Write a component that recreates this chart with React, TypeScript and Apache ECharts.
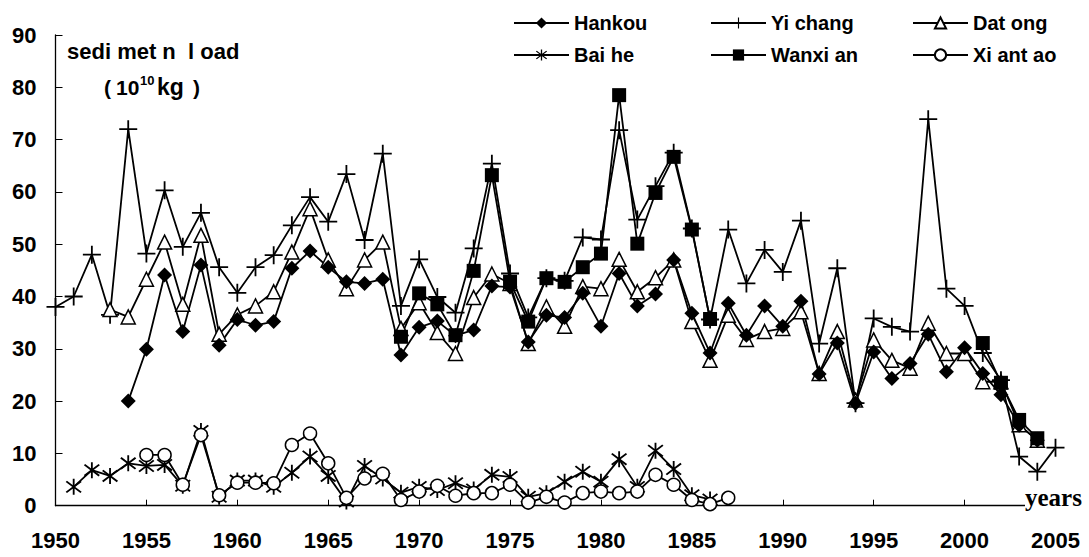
import React, { useEffect, useRef } from "react";
import * as echarts from "echarts";

const years = [
  1950, 1951, 1952, 1953, 1954, 1955, 1956, 1957, 1958, 1959,
  1960, 1961, 1962, 1963, 1964, 1965, 1966, 1967, 1968, 1969,
  1970, 1971, 1972, 1973, 1974, 1975, 1976, 1977, 1978, 1979,
  1980, 1981, 1982, 1983, 1984, 1985, 1986, 1987, 1988, 1989,
  1990, 1991, 1992, 1993, 1994, 1995, 1996, 1997, 1998, 1999,
  2000, 2001, 2002, 2003, 2004, 2005,
];

const hankou = [
  null, null, null, null, 20, 29.9, 44.1, 33.3, 46, 30.7,
  35.6, 34.5, 35.2, 45.4, 48.7, 45.6, 42.8, 42.5, 43.3, 28.8,
  34.1, 35.3, 32.5, 33.6, 42, 41.8, 31.3, 36.4, 36, 40.6,
  34.3, 44.4, 38.2, 40.5, 47, 36.8, 29.2, 38.7, 32.6, 38.2,
  34.3, 39.1, 25.2, 31.1, 19.6, 29.4, 24.3, 27.2, 32.8, 25.6,
  30.2, 25.3, 21.2, 15.4, 12.5, null,
];

const yichang = [
  38, 40, 48, 36.5, 72, 48.2, 60.3, 49.5, 56, 45.6,
  40.7, 45.6, 47.9, 53.6, 59, 54.3, 63.4, 50.8, 67.3, 38.2,
  47.1, 39.9, 36.9, 49.2, 65.4, 44.4, 36, 43.5, 43, 51.3,
  50.9, 71.8, 54.7, 61.1, 67.5, 53, 35.6, 52.8, 42.5, 48.9,
  44.7, 54.5, 31, 45.4, 19.6, 35.8, 34.2, 33.3, 73.9, 41.5,
  38.2, 29.2, 24, 9.4, 6.5, 11.1,
];

const datong = [
  null, null, null, 37.5, 36.1, 43.3, 50.4, 38.5, 51.7, 32.8,
  36.5, 38.2, 40.9, 48.5, 56.8, 47, 41.5, 47, 50.4, 33.9,
  38.8, 33.1, 29.1, 39.8, 44.3, 42.5, 31, 38, 34.3, 41.9,
  41.5, 47.1, 40.9, 43.6, 47, 35.2, 27.8, 36.4, 31.8, 33.3,
  33.9, 37.1, 25.3, 33.3, 20.2, 31.7, 27.8, 26.3, 34.9, 29.1,
  29.1, 23.7, 23.7, 15.5, 12.5, null,
];

const baihe = [
  null, 3.6, 6.8, 5.7, 8.1, 7.6, 7.8, 3.8, 14.3, 1.7,
  4.8, 4.8, 3.6, 6.3, 9.4, 5.7, 0.8, 7.6, 5.2, 2.5,
  3.6, 3, 4.3, 3.1, 5.9, 5.5, 1.7, 2.4, 4.6, 6.5,
  4.6, 8.9, 3.6, 10.5, 7, 2, 1.2, null, null, null,
  null, null, null, null, null, null, null, null, null, null,
  null, null, null, null, null, null,
];

const wanxian = [
  null, null, null, null, null, null, null, null, null, null,
  null, null, null, null, null, null, null, null, null, 32.3,
  40.6, 38.5, 32.6, 44.9, 63.2, 42.8, 35.2, 43.5, 42.8, 45.6,
  48.2, 78.5, 50.1, 59.8, 66.7, 52.8, 35.7, null, null, null,
  null, null, null, null, null, null, null, null, null, null,
  null, 31.1, 23.5, 16.4, 12.9, null,
];

const xiantao = [
  null, null, null, null, null, 9.7, 9.7, 4, 13.5, 2,
  4.4, 4.4, 4.3, 11.6, 13.8, 8.1, 1.5, 5.2, 6.1, 1.1,
  2.7, 3.8, 1.9, 2.4, 2.4, 4, 0.6, 1.7, 0.6, 2.4,
  2.7, 2.4, 2.7, 5.9, 4, 1.1, 0.3, 1.5, null, null,
  null, null, null, null, null, null, null, null, null, null,
  null, null, null, null, null, null,
];

const SANS = '"Liberation Sans", Arial, Helvetica, sans-serif';
const SERIF = '"Liberation Serif", "Times New Roman", serif';

const PLUS = "path://M9,0H11V9H20V11H11V20H9V11H0V9H9Z";
const STAR =
  "path://M9,0H11V20H9Z M2.7,2.2L18.7,16.2L17.3,17.8L1.3,3.8Z M18.7,3.8L2.7,17.8L1.3,16.2L17.3,2.2Z";

function pairs(arr: (number | null)[]) {
  return years.map((y, i) => [y, arr[i] == null ? "-" : arr[i]]);
}

function makeSeries(name: string, arr: (number | null)[], symbol: string, size: number, hollow: boolean) {
  return {
    name,
    type: "line",
    data: pairs(arr),
    symbol,
    symbolSize: size,
    showSymbol: true,
    showAllSymbol: true,
    connectNulls: false,
    color: "#000",
    lineStyle: { color: "#000", width: 1.8 },
    itemStyle: hollow
      ? { color: "#fff", borderColor: "#000", borderWidth: 1.5 }
      : { color: "#000", borderWidth: 0 },
    emphasis: { disabled: true },
  };
}

function legendCol(names: string[], left: number) {
  return {
    data: names,
    orient: "vertical",
    left,
    top: 8,
    itemWidth: 55,
    itemHeight: 14,
    itemGap: 12,
    selectedMode: false,
    textStyle: { fontSize: 20, fontWeight: "bold", fontFamily: SANS, color: "#000", lineHeight: 20 },
  };
}

export default function App() {
  const ref = useRef<HTMLDivElement>(null);

  useEffect(() => {
    if (!ref.current) return;
    const chart = echarts.init(ref.current, null, { renderer: "svg" });
    chart.setOption({
      animation: false,
      backgroundColor: "#fff",
      grid: { left: 55.5, right: 33.5, top: 35, bottom: 51.3, containLabel: false },
      xAxis: {
        type: "value",
        min: 1950,
        max: 2005,
        interval: 5,
        axisLine: { show: true, lineStyle: { color: "#000", width: 1.3 } },
        axisTick: { show: true, inside: true, length: 6, lineStyle: { color: "#000", width: 1 } },
        axisLabel: {
          fontSize: 22,
          fontWeight: "bold",
          fontFamily: SANS,
          color: "#000",
          margin: 24,
          formatter: (v: number) => String(v),
        },
        splitLine: { show: false },
      },
      yAxis: {
        type: "value",
        min: 0,
        max: 90,
        interval: 10,
        axisLine: { show: true, lineStyle: { color: "#000", width: 1.3 } },
        axisTick: { show: true, inside: true, length: 7, lineStyle: { color: "#000", width: 1 } },
        axisLabel: {
          fontSize: 22,
          fontWeight: "bold",
          fontFamily: SANS,
          color: "#000",
          margin: 19,
          padding: [12, 0, 0, 0],
        },
        splitLine: { show: false },
      },
      legend: [
        legendCol(["Hankou", "Bai he"], 508),
        legendCol(["Yi chang", "Wanxi an"], 705),
        legendCol(["Dat ong", "Xi ant ao"], 907),
      ],
      series: [
        makeSeries("Yi chang", yichang, PLUS, 18, false),
        makeSeries("Dat ong", datong, "triangle", 14, true),
        makeSeries("Wanxi an", wanxian, "rect", 14, false),
        makeSeries("Hankou", hankou, "diamond", 15, false),
        makeSeries("Bai he", baihe, STAR, 16, false),
        makeSeries("Xi ant ao", xiantao, "circle", 13, true),
      ],
      graphic: [
        {
          type: "text",
          x: 67,
          y: 51,
          style: { text: "sedi met n  l oad", font: `bold 22px ${SANS}`, fill: "#000", verticalAlign: "middle" },
        },
        {
          type: "text",
          x: 104,
          y: 87,
          style: { text: "(", font: `bold 21px ${SANS}`, fill: "#000", verticalAlign: "middle" },
        },
        {
          type: "text",
          x: 116,
          y: 87,
          style: { text: "10", font: `bold 21px ${SANS}`, fill: "#000", verticalAlign: "middle" },
        },
        {
          type: "text",
          x: 140,
          y: 80,
          style: { text: "10", font: `bold 13px ${SANS}`, fill: "#000", verticalAlign: "middle" },
        },
        {
          type: "text",
          x: 157,
          y: 87,
          style: { text: "kg", font: `bold 23px ${SANS}`, fill: "#000", verticalAlign: "middle" },
        },
        {
          type: "text",
          x: 193,
          y: 87,
          style: { text: ")", font: `bold 21px ${SANS}`, fill: "#000", verticalAlign: "middle" },
        },
        {
          type: "text",
          x: 1025,
          y: 497,
          z: 100,
          style: {
            text: "years",
            font: `bold 25px ${SERIF}`,
            fill: "#000",
            verticalAlign: "middle",
            backgroundColor: "#fff",
          },
        },
      ],
    });
    return () => chart.dispose();
  }, []);

  return (
    <div
      ref={ref}
      style={{ position: "fixed", left: 0, top: 0, width: 1089, height: 557, background: "#fff" }}
    />
  );
}
